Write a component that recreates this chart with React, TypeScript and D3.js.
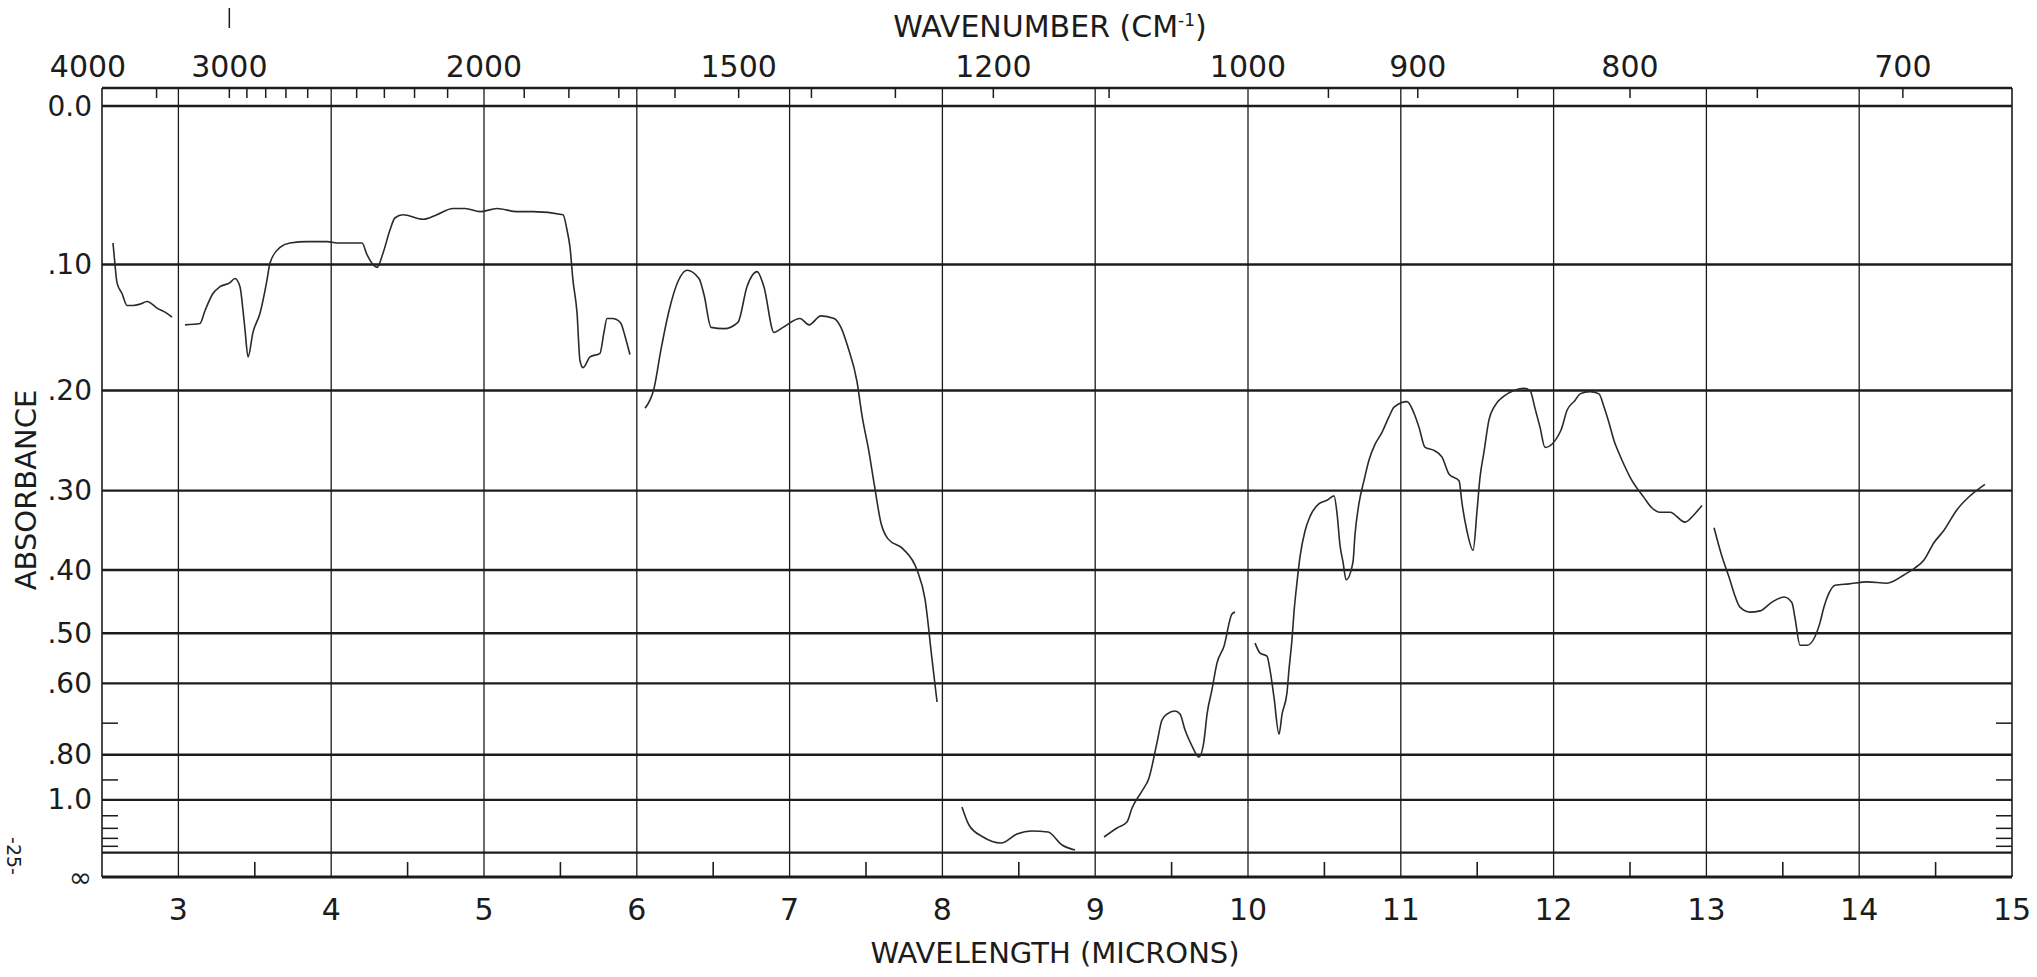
import React from 'react';
import * as d3 from 'd3';

// IR spectrum, absorbance vs wavelength (microns), wavenumber scale on top

const wavenumberLabels = [4000, 3000, 2000, 1500, 1200, 1000, 900, 800, 700];
const wavenumberTicks = [3500, 3000, 2900, 2800, 2700, 2600, 2400, 2300, 2200, 2100, 1900, 1800, 1700, 1600,
    1500, 1400, 1300, 1200, 1100, 950, 900, 850, 800, 750, 700];
const micronLabels = [3, 4, 5, 6, 7, 8, 9, 10, 11, 12, 13, 14, 15];
const micronGrid = [3, 4, 5, 6, 7, 8, 9, 10, 11, 12, 13, 14];
const halfMicronTicks = [3.5, 4.5, 5.5, 6.5, 7.5, 8.5, 9.5, 10.5, 11.5, 12.5, 13.5, 14.5];
const absorbanceGrid = [0, 0.1, 0.2, 0.3, 0.4, 0.5, 0.6, 0.8, 1.0, 1.5];
const absorbanceLabelValues = [0, 0.1, 0.2, 0.3, 0.4, 0.5, 0.6, 0.8, 1.0];
const absorbanceLabelText = ['0.0', '.10', '.20', '.30', '.40', '.50', '.60', '.80', '1.0'];
const absorbanceMinor = [0.7, 0.9, 1.1, 1.2, 1.3, 1.4];

// trace, null = pen lift
const wavelength = [
    2.572, 2.585, 2.598, 2.631, 2.664, 2.703, 2.749, 2.795, 2.860, 2.925, 2.958, null,
    3.043, 3.141, 3.174, 3.226, 3.272, 3.338, 3.370, 3.403, 3.423, 3.436, 3.456, 3.488, 3.534, 3.580,
    3.599, 3.665, 3.730, 3.842, 3.973, 4.038, 4.202, 4.234, 4.300, 4.339, 4.385, 4.418, 4.470, 4.601,
    4.692, 4.797, 4.876, 4.974, 5.085, 5.216, 5.321, 5.517, 5.543, 5.563, 5.582, 5.609, 5.628, 5.648,
    5.694, 5.759, 5.785, 5.805, 5.838, 5.870, 5.897, 5.923, 5.955, null,
    6.054, 6.113, 6.158, 6.211, 6.270, 6.328, 6.407, 6.440, 6.486, 6.571, 6.662, 6.721, 6.787, 6.832,
    6.898, 6.957, 7.068, 7.127, 7.205, 7.291, 7.336, 7.382, 7.441, 7.474, 7.520, 7.553, 7.598, 7.644,
    7.742, 7.834, 7.886, 7.932, 7.965, null,
    8.128, 8.174, 8.266, 8.383, 8.488, 8.586, 8.691, 8.783, 8.868, null,
    9.058, 9.143, 9.208, 9.241, 9.306, 9.352, 9.405, 9.437, 9.470, 9.522, 9.555, 9.588, 9.634, 9.679,
    9.712, 9.732, 9.764, 9.797, 9.843, 9.895, 9.915, null,
    10.046, 10.079, 10.124, 10.144, 10.170, 10.203, 10.223, 10.255, 10.268, 10.288, 10.301, 10.321,
    10.340, 10.373, 10.406, 10.465, 10.517, 10.563, 10.583, 10.602, 10.622, 10.642, 10.687, 10.700,
    10.726, 10.759, 10.792, 10.831, 10.877, 10.923, 10.956, 11.041, 11.087, 11.119, 11.159, 11.217,
    11.270, 11.316, 11.381, 11.401, 11.433, 11.473, 11.499, 11.518, 11.545, 11.577, 11.610, 11.675,
    11.741, 11.806, 11.846, 11.878, 11.911, 11.944, 12.048, 12.088, 12.140, 12.173, 12.238, 12.297,
    12.330, 12.363, 12.395, 12.428, 12.467, 12.500, 12.592, 12.644, 12.696, 12.762, 12.860, 12.919,
    12.971, null,
    13.050, 13.103, 13.148, 13.181, 13.220, 13.285, 13.351, 13.429, 13.508, 13.560, 13.580, 13.613,
    13.658, 13.743, 13.769, 13.802, 13.842, 13.933, 14.051, 14.182, 14.293, 14.365, 14.424, 14.489,
    14.555, 14.640, 14.719, 14.823
];
const absorbance = [
    .085, .100, .113, .121, .130, .130, .129, .127, .132, .136, .139, null,
    .145, .144, .134, .121, .116, .113, .110, .116, .134, .149, .171, .151, .136, .111,
    .099, .088, .085, .084, .084, .085, .085, .093, .102, .092, .076, .068, .066, .069,
    .066, .062, .062, .064, .062, .064, .064, .066, .076, .088, .111, .136, .174, .180,
    .171, .168, .151, .140, .140, .141, .144, .154, .169, null,
    .216, .198, .165, .134, .112, .104, .110, .122, .147, .148, .143, .116, .105, .116,
    .151, .147, .140, .145, .138, .140, .147, .163, .192, .223, .259, .292, .338, .358,
    .371, .400, .443, .549, .644, null,
    1.042, 1.171, 1.285, 1.356, 1.254, 1.224, 1.234, 1.382, 1.456, null,
    1.285, 1.197, 1.147, 1.048, .953, .891, .757, .691, .675, .667, .675, .720, .770, .808,
    .753, .675, .615, .557, .524, .467, .464, null,
    .518, .537, .543, .571, .632, .732, .675, .622, .571, .511, .464, .417,
    .382, .348, .330, .315, .311, .306, .327, .366, .389, .414, .389, .353,
    .315, .289, .267, .251, .239, .224, .215, .210, .221, .234, .254, .257,
    .264, .282, .289, .315, .348, .373, .323, .286, .258, .227, .215, .205,
    .200, .198, .200, .216, .234, .254, .237, .218, .209, .203, .201, .203,
    .215, .230, .247, .260, .274, .285, .308, .320, .325, .325, .337, .328,
    .317, null,
    .344, .382, .410, .434, .456, .464, .462, .448, .440, .449, .474, .522,
    .522, .482, .456, .434, .422, .420, .417, .419, .407, .397, .386, .363,
    .347, .322, .307, .293
];

const width = 2037;
const height = 977;
const plot = {left: 102, right: 2012, strip: 88, top: 106, bottom: 877};
const ink = '#1c1c1c';
const font = 'DejaVu Sans, Verdana, sans-serif';

function App() {
    const x = d3.scaleLinear().domain([2.5, 15]).range([plot.left, plot.right]);
    // chart paper is linear in transmittance
    const tScale = d3.scaleLinear().domain([1, 0]).range([plot.top, plot.bottom]);
    const y = (a: number) => tScale(Math.pow(10, -a));

    const points = wavelength.map((w, i) => [w, absorbance[i]] as [number | null, number | null]);
    const line = d3.line<[number | null, number | null]>()
        .defined((d) => d[0] != null && d[1] != null)
        .x((d) => x(d[0] as number))
        .y((d) => y(d[1] as number))
        .curve(d3.curveMonotoneX);

    return (
        <svg width={width} height={height} style={{position: 'absolute', left: 0, top: 0, background: '#fff'}}
             fontFamily={font}>
            <rect width={width} height={height} fill="#fff"/>

            {/* horizontal absorbance grid */}
            {absorbanceGrid.map((a) => (
                <line key={'h' + a} x1={plot.left} x2={plot.right} y1={y(a)} y2={y(a)} stroke={ink}
                      strokeWidth={2.4}/>
            ))}
            <line x1={plot.left} x2={plot.right} y1={plot.strip} y2={plot.strip} stroke={ink} strokeWidth={2.6}/>
            <line x1={plot.left} x2={plot.right} y1={plot.bottom} y2={plot.bottom} stroke={ink} strokeWidth={3}/>

            {/* vertical micron grid */}
            {micronGrid.map((m) => (
                <line key={'v' + m} x1={x(m)} x2={x(m)} y1={plot.strip} y2={plot.bottom} stroke={ink}
                      strokeWidth={1.3}/>
            ))}
            <line x1={plot.left} x2={plot.left} y1={plot.strip} y2={plot.bottom} stroke={ink} strokeWidth={1.6}/>
            <line x1={plot.right} x2={plot.right} y1={plot.strip} y2={plot.bottom} stroke={ink} strokeWidth={1.6}/>

            {/* wavenumber ticks in header strip */}
            {wavenumberTicks.map((wn) => (
                <line key={'wt' + wn} x1={x(10000 / wn)} x2={x(10000 / wn)} y1={plot.strip} y2={plot.strip + 10}
                      stroke={ink} strokeWidth={1.5}/>
            ))}

            {/* half micron ticks along bottom */}
            {halfMicronTicks.map((m) => (
                <line key={'hm' + m} x1={x(m)} x2={x(m)} y1={plot.bottom} y2={plot.bottom - 15} stroke={ink}
                      strokeWidth={1.6}/>
            ))}

            {/* minor absorbance ticks, both sides */}
            {absorbanceMinor.map((a) => (
                <g key={'am' + a}>
                    <line x1={plot.left} x2={plot.left + 16} y1={y(a)} y2={y(a)} stroke={ink} strokeWidth={1.5}/>
                    <line x1={plot.right - 16} x2={plot.right} y1={y(a)} y2={y(a)} stroke={ink} strokeWidth={1.5}/>
                </g>
            ))}

            {/* spectrum trace */}
            <path d={line(points) || ''} fill="none" stroke="#2a2a2a" strokeWidth={1.6} strokeLinejoin="round"/>

            {/* top axis labels */}
            {wavenumberLabels.map((wn, i) => (
                <text key={'wl' + wn} x={x(10000 / wn) - (i === 0 ? 14 : 0)} y={77} fontSize={30}
                      textAnchor="middle" fill={ink}>{wn}</text>
            ))}
            <text x={1050} y={37} fontSize={30} textAnchor="middle" fill={ink}>
                WAVENUMBER (CM<tspan fontSize={17} dy={-11}>-1</tspan><tspan dy={11}>)</tspan>
            </text>
            <line x1={x(10000 / 3000)} x2={x(10000 / 3000)} y1={8} y2={28} stroke={ink} strokeWidth={1.5}/>

            {/* bottom axis labels */}
            {micronLabels.map((m) => (
                <text key={'ml' + m} x={x(m)} y={920} fontSize={30} textAnchor="middle" fill={ink}>{m}</text>
            ))}
            <text x={1055} y={963} fontSize={29} textAnchor="middle" fill={ink}>WAVELENGTH (MICRONS)</text>

            {/* left axis labels */}
            {absorbanceLabelValues.map((a, i) => (
                <text key={'al' + a} x={92} y={y(a)} fontSize={28} textAnchor="end" dominantBaseline="central"
                      fill={ink}>{absorbanceLabelText[i]}</text>
            ))}
            <text x={92} y={plot.bottom} fontSize={28} textAnchor="end" dominantBaseline="central"
                  fill={ink}>∞</text>
            <text transform="translate(36, 490) rotate(-90)" fontSize={29} textAnchor="middle"
                  fill={ink}>ABSORBANCE</text>
            <text transform="translate(7, 856) rotate(90)" fontSize={19} textAnchor="middle"
                  fill={ink}>-25-</text>
        </svg>
    );
}

export default App;
